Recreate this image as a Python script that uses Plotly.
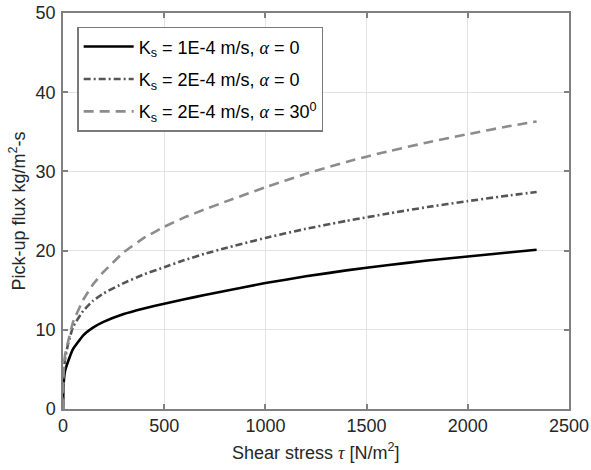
import plotly.graph_objects as go

tau = [0, 2, 5, 10, 25, 50, 100, 150, 200, 300, 400, 500, 600, 700, 800,
       1000, 1200, 1400, 1600, 1800, 2000, 2200, 2340]
flux_ks1_a0 = [0, 2.5, 3.8, 4.8, 6.0, 7.6, 9.3, 10.3, 11.0, 12.0, 12.7, 13.3,
               13.85, 14.4, 14.9, 15.9, 16.75, 17.5, 18.15, 18.75, 19.25, 19.75, 20.1]
flux_ks2_a0 = [0, 3.5, 5.0, 6.3, 8.2, 10.4, 12.4, 13.7, 14.6, 15.9, 17.0, 17.9,
               18.8, 19.6, 20.3, 21.6, 22.75, 23.75, 24.65, 25.5, 26.25, 26.95, 27.4]
flux_ks2_a30 = [0, 4.0, 5.5, 6.8, 8.5, 11.0, 13.8, 15.8, 17.3, 19.8, 21.6, 23.0,
                24.2, 25.2, 26.15, 28.0, 29.7, 31.2, 32.5, 33.65, 34.7, 35.7, 36.3]

alpha = '<span style="font-family:Liberation Serif"><i>α</i></span>'
names = [
    'K<sub>s</sub> = 1E-4 m/s, ' + alpha + ' = 0',
    'K<sub>s</sub> = 2E-4 m/s, ' + alpha + ' = 0',
    'K<sub>s</sub> = 2E-4 m/s, ' + alpha + ' = 30<sup>0</sup>',
]
series = [flux_ks1_a0, flux_ks2_a0, flux_ks2_a30]
colors = ['#000000', '#555555', '#8c8c8c']
dashes = ['solid', '7px,3px,2px,3px', '10px,6px']

x_title = 'Shear stress <span style="font-family:Liberation Serif"><i>τ</i></span> [N/m<sup>2</sup>]'
y_title = 'Pick-up flux kg/m<sup>2</sup>-s'

fig = go.Figure()
for i, (n, s, c, d) in enumerate(zip(names, series, colors, dashes)):
    fig.add_trace(go.Scatter(x=tau, y=s, mode='lines', name=n, legendgroup=f'g{i}',
                             line=dict(color=c, width=2.6, dash=d, shape='spline', smoothing=0.3)))

axis_common = dict(
    showgrid=True, gridcolor='#e3e3e3', gridwidth=1,
    showline=True, linecolor='#808080', linewidth=1.5, mirror='ticks',
    ticks='inside', ticklen=5, tickwidth=1.5, tickcolor='#808080',
    zeroline=False, automargin=False,
    tickfont=dict(family='Liberation Sans', size=18, color='#262626'),
)

fig.update_layout(
    width=591, height=470,
    margin=dict(l=63, r=22, t=13, b=61),
    paper_bgcolor='white', plot_bgcolor='white',
    font=dict(family='Liberation Sans', size=18, color='#262626'),
    xaxis=dict(range=[0, 2500], tickvals=[0, 500, 1000, 1500, 2000, 2500], **axis_common),
    yaxis=dict(range=[0, 50], tickvals=[0, 10, 20, 30, 40, 50], ticklabelstandoff=2, **axis_common),
    legend=dict(x=0.028, y=0.965, xanchor='left', yanchor='top',
                bgcolor='white', bordercolor='#7a7a7a', borderwidth=1.5,
                font=dict(family='Liberation Sans', size=18, color='#000000'),
                tracegroupgap=6, itemwidth=50),
    showlegend=True,
    annotations=[
        dict(text=x_title, xref='paper', yref='paper', x=0.5, y=-0.108,
             xanchor='center', yanchor='middle', showarrow=False,
             font=dict(family='Liberation Sans', size=18, color='#262626')),
        dict(text=y_title, xref='paper', yref='paper', x=-0.09, y=0.5,
             xanchor='center', yanchor='middle', showarrow=False, textangle=-90,
             font=dict(family='Liberation Sans', size=18, color='#262626')),
    ],
)

fig.write_html("out.html",
               config={'displayModeBar': False},
               post_script="document.body.style.margin='0';document.body.style.overflow='hidden';")
